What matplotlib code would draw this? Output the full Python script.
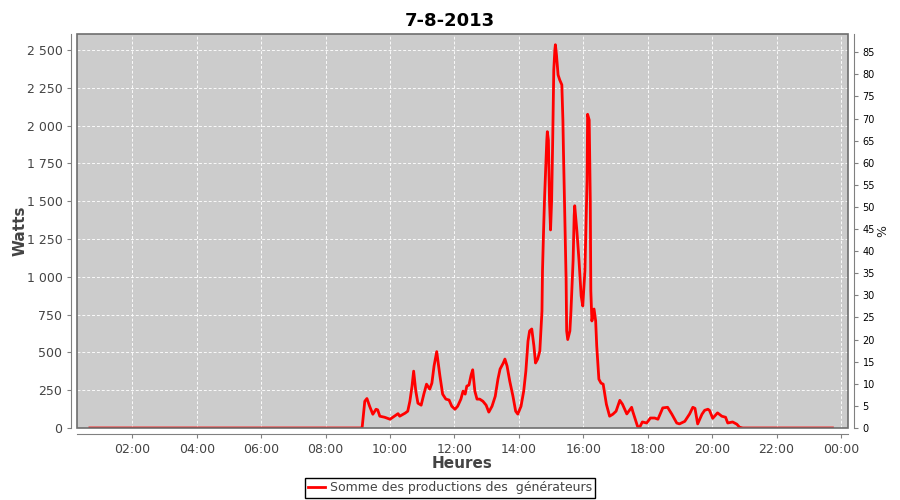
import matplotlib
matplotlib.use("Agg")
import matplotlib.pyplot as plt
import matplotlib.dates as mdates
from matplotlib.patches import Rectangle
from matplotlib.ticker import FuncFormatter, MultipleLocator
import pandas as pd

# Production data, 7 August 2013
jour = "2013-08-07"
heures = [
    "00:41", "03:00", "06:00", "09:00", "09:08", "09:13", "09:17", "09:22", "09:28", "09:34",
    "09:37", "09:41", "09:50", "10:00", "10:09", "10:15", "10:18", "10:28", "10:33", "10:37",
    "10:41", "10:44", "10:48", "10:52", "10:58", "11:03", "11:08", "11:14", "11:18", "11:22",
    "11:27", "11:33", "11:38", "11:44", "11:50", "11:55", "12:01", "12:06", "12:12", "12:16",
    "12:20", "12:23", "12:27", "12:31", "12:34", "12:38", "12:42", "12:47", "12:53", "12:59",
    "13:04", "13:10", "13:16", "13:21", "13:25", "13:31", "13:34", "13:38", "13:43", "13:49",
    "13:54", "13:58", "14:04", "14:09", "14:13", "14:17", "14:20", "14:24", "14:28", "14:31",
    "14:35", "14:39", "14:43", "14:44", "14:46", "14:48", "14:52", "14:53", "14:55", "14:57",
    "14:59", "15:01", "15:03", "15:05", "15:07", "15:08", "15:10", "15:13", "15:16", "15:20",
    "15:22", "15:23", "15:25", "15:28", "15:29", "15:31", "15:35", "15:37", "15:41", "15:43",
    "15:44", "15:48", "15:52", "15:56", "15:59", "16:03", "16:07", "16:08", "16:11", "16:13",
    "16:14", "16:16", "16:20", "16:23", "16:25", "16:29", "16:33", "16:37", "16:43", "16:49",
    "16:55", "17:01", "17:08", "17:13", "17:21", "17:30", "17:32", "17:41", "17:45", "17:50",
    "17:58", "18:05", "18:13", "18:19", "18:28", "18:37", "18:45", "18:54", "18:59", "19:09",
    "19:18", "19:24", "19:28", "19:33", "19:41", "19:46", "19:52", "19:55", "20:01", "20:10",
    "20:18", "20:25", "20:29", "20:38", "20:46", "20:51", "20:57", "22:00", "23:44",
]
watts = [
    0, 0, 0, 0, 0, 177, 195, 144, 91, 124,
    120, 78, 71, 58, 80, 95, 78, 98, 111, 177,
    277, 376, 244, 164, 151, 224, 290, 257, 297, 410,
    505, 343, 224, 191, 185, 144, 124, 144, 191, 244,
    224, 277, 284, 350, 385, 244, 191, 191, 177, 151,
    105, 144, 210, 323, 390, 430, 456, 410, 310, 210,
    111, 92, 144, 244, 376, 575, 642, 655, 543, 430,
    456, 509, 774, 1040, 1305, 1538, 1903, 1960, 1903, 1505,
    1310, 1505, 1903, 2368, 2501, 2535, 2469, 2336, 2303, 2270,
    2037, 1837, 1505, 974, 642, 585, 642, 774, 1107, 1405,
    1470, 1305, 1107, 874, 807, 1040, 1638, 2075, 2037, 1505,
    907, 708, 787, 708, 543, 323, 297, 290, 157, 78,
    91, 111, 183, 157, 93, 137, 111, 11, 5, 40,
    33, 66, 66, 58, 133, 137, 91, 33, 27, 44,
    93, 137, 130, 27, 91, 117, 124, 117, 64, 100,
    78, 71, 33, 40, 25, 5, 0, 0, 0,
]
watts_max = 2606      # top of the Watts axis
watts_100pct = 2924   # Watts corresponding to 100 %

temps = pd.to_datetime([jour + " " + h for h in heures])

fig = plt.figure(figsize=(9, 5), dpi=100)
ax = fig.add_axes([77 / 900, 1 - 428 / 500, 771 / 900, 394 / 500])
ax.set_facecolor("#cccccc")

ax.plot(temps, watts, color="#ff0000", linewidth=2.0, solid_joinstyle="round",
        label="Somme des productions des  générateurs")

ax.set_xlim(pd.Timestamp(jour + " 00:17"), pd.Timestamp(jour + " 00:00") + pd.Timedelta(hours=24, minutes=13))
ax.set_ylim(0, watts_max)
ax.xaxis.set_major_locator(mdates.HourLocator(byhour=range(0, 24, 2)))
ax.xaxis.set_major_formatter(mdates.DateFormatter("%H:%M"))
ax.yaxis.set_major_locator(MultipleLocator(250))
ax.yaxis.set_major_formatter(FuncFormatter(lambda v, p: format(int(v), ",").replace(",", " ")))

ax.grid(True, color="white", linestyle=(0, (3, 2)), linewidth=0.7, alpha=0.9)
ax.set_axisbelow(True)

# JFreeChart-like look: axis lines offset from the plot border
for s in ["top", "right"]:
    ax.spines[s].set_visible(False)
for s in ["left", "bottom"]:
    ax.spines[s].set_position(("outward", 4))
    ax.spines[s].set_color("#808080")
ax.add_patch(Rectangle((0, 0), 1, 1, transform=ax.transAxes, fill=False,
                       edgecolor="#6e6e6e", linewidth=1.2, clip_on=False, zorder=5))
ax.tick_params(axis="both", colors="#808080", labelcolor="#444444", labelsize=9, length=3)

ax2 = ax.twinx()
ax2.set_ylim(0, watts_max / watts_100pct * 100)
ax2.yaxis.set_major_locator(MultipleLocator(5))
for s in ["top", "left", "bottom"]:
    ax2.spines[s].set_visible(False)
ax2.spines["right"].set_position(("outward", 4))
ax2.spines["right"].set_color("#808080")
ax2.tick_params(axis="y", colors="#808080", labelcolor="#000000", labelsize=7, length=3)
ax2.set_ylabel("%", fontsize=9, color="#222222")
ax2.yaxis.set_label_coords((876 - 77) / 771, 0.5)

ax.set_xlabel("Heures", fontsize=11, fontweight="bold", color="#444444")
ax.set_ylabel("Watts", fontsize=11, fontweight="bold", color="#444444")
ax.xaxis.set_label_coords(0.5, -(456 - 428) / 394)
ax.yaxis.set_label_coords(-(77 - 28) / 771, 0.5)
fig.suptitle("7-8-2013", fontsize=13, fontweight="bold", y=0.975)

leg = fig.legend(loc="center", bbox_to_anchor=(0.5, 0.024), fontsize=9, frameon=True,
                 fancybox=False, edgecolor="black", framealpha=1, borderpad=0.3,
                 handlelength=1.3, handletextpad=0.4, borderaxespad=0)
leg.get_frame().set_linewidth(1.0)
for t in leg.get_texts():
    t.set_color("#444444")

fig.savefig("out.png", dpi=100)
